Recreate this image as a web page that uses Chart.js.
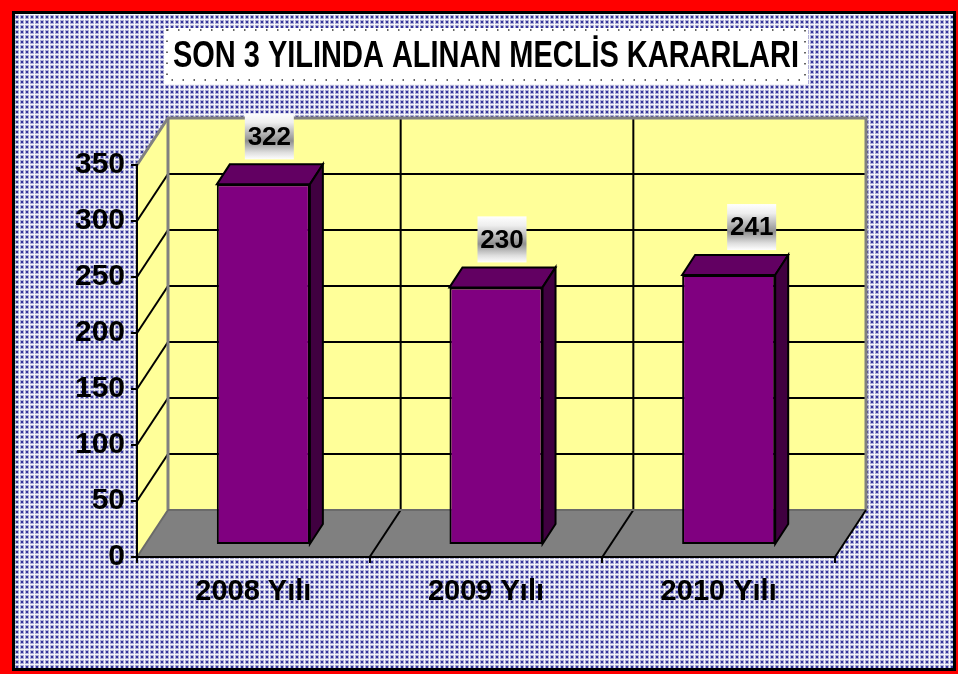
<!DOCTYPE html>
<html>
<head>
<meta charset="utf-8">
<title>SON 3 YILINDA ALINAN MECLİS KARARLARI</title>
<script src="https://cdn.jsdelivr.net/npm/chart.js@4.4.1/dist/chart.umd.min.js"></script>
<style>
  html, body { margin: 0; padding: 0; background: #fff; }
  #chart { display: block; }
</style>
</head>
<body>
<canvas id="chart" width="958" height="674"></canvas>
<script>
// data
const years = ['2008 Yılı', '2009 Yılı', '2010 Yılı'];
const decisions = [322, 230, 241];
const yTicks = [0, 50, 100, 150, 200, 250, 300, 350];
const chartTitle = 'SON 3 YILINDA ALINAN MECLİS KARARLARI';

// fake 3D settings (Excel style box)
const WALL_DX = 31, WALL_DY = -47;      // depth of the walls
const BAR_DX = 10, BAR_DY = -12;        // bars sit a bit behind the front edge
const BAR_DEPTH_X = 13, BAR_DEPTH_Y = -20;
const labelNudge = [6, 6, 23];          // labels were moved by hand in the original
const TITLE_PAD_TOP = 35.4;
const TITLE_WIDTH = 626;                // title is squeezed like Arial Narrow

const boldFont = "'Liberation Sans', Arial, sans-serif";

function makePattern(ctx) {
  const tile = document.createElement('canvas');
  tile.width = 5; tile.height = 5;
  const t = tile.getContext('2d');
  t.fillStyle = '#f6f6fb'; t.fillRect(0, 0, 5, 5);
  t.fillStyle = '#aeaed6'; t.fillRect(0, 0, 4, 4);
  t.fillStyle = '#34349a'; t.fillRect(1, 1, 2, 2);
  return ctx.createPattern(tile, 'repeat');
}

function poly(ctx, pts, fill, stroke, lw) {
  ctx.beginPath();
  ctx.moveTo(pts[0][0], pts[0][1]);
  for (let i = 1; i < pts.length; i++) ctx.lineTo(pts[i][0], pts[i][1]);
  ctx.closePath();
  if (fill) { ctx.fillStyle = fill; ctx.fill(); }
  if (stroke) { ctx.strokeStyle = stroke; ctx.lineWidth = lw || 2; ctx.stroke(); }
}

function line(ctx, x1, y1, x2, y2, color, lw) {
  ctx.beginPath();
  ctx.moveTo(x1, y1);
  ctx.lineTo(x2, y2);
  ctx.strokeStyle = color;
  ctx.lineWidth = lw;
  ctx.stroke();
}

const scene = {
  id: 'scene',
  afterLayout(chart) {
    // narrow the title block so the text gets condensed to the original width
    const tb = chart.titleBlock;
    const c = (tb.left + tb.right) / 2;
    tb.left = c - TITLE_WIDTH / 2;
    tb.right = c + TITLE_WIDTH / 2;
  },
  beforeDraw(chart) {
    const { ctx, chartArea: a, scales: { x, y } } = chart;
    const W = chart.width, H = chart.height;
    ctx.save();

    // red frame, black line, dotted blue background
    ctx.fillStyle = '#ff0000';
    ctx.fillRect(0, 0, W, H);
    ctx.fillStyle = '#000';
    ctx.fillRect(12, 11, W - 14, H - 14);
    ctx.fillStyle = makePattern(ctx);
    ctx.fillRect(15, 14, W - 20, H - 20);

    // white box behind the title
    const tb = chart.titleBlock;
    const tf = Chart.helpers.toFont(chart.options.plugins.title.font);
    const tcy = tb.top + TITLE_PAD_TOP + tf.lineHeight / 2;
    ctx.fillStyle = '#fff';
    ctx.fillRect(tb.left - 9, tcy - 29, tb.right - tb.left + 18, 56);
    ctx.setLineDash([1.5, 9.5]);
    ctx.strokeStyle = '#333';
    ctx.lineWidth = 1.5;
    ctx.strokeRect(tb.left - 6, tcy - 27, tb.right - tb.left + 12, 50);
    ctx.setLineDash([]);

    const yf = v => y.getPixelForValue(v);
    const yb = v => y.getPixelForValue(v) + WALL_DY;
    const top = yTicks[yTicks.length - 1], bot = yTicks[0];
    const L = a.left, R = a.right;

    // back wall, side wall, floor
    poly(ctx, [[L + WALL_DX, yb(top)], [R + WALL_DX, yb(top)], [R + WALL_DX, yb(bot)], [L + WALL_DX, yb(bot)]], '#ffff99');
    poly(ctx, [[L, yf(top)], [L + WALL_DX, yb(top)], [L + WALL_DX, yb(bot)], [L, yf(bot)]], '#ffff99');
    poly(ctx, [[L, yf(bot)], [L + WALL_DX, yb(bot)], [R + WALL_DX, yb(bot)], [R, yf(bot)]], '#808080');

    // gridlines on the back wall and the side wall
    yTicks.slice(1, -1).forEach(v => {
      line(ctx, L + WALL_DX, yb(v), R + WALL_DX, yb(v), '#000', 2);
      line(ctx, L, yf(v), L + WALL_DX, yb(v), '#000', 2);
    });

    // category dividers
    for (let i = 1; i < years.length; i++) {
      const bx = (x.getPixelForValue(i - 1) + x.getPixelForValue(i)) / 2;
      line(ctx, bx + WALL_DX, yb(bot), bx + WALL_DX, yb(top), '#000', 2);
      line(ctx, bx, yf(bot), bx + WALL_DX, yb(bot), '#000', 2);
    }

    // edges
    ctx.beginPath();
    ctx.moveTo(L, yf(top));
    ctx.lineTo(L + WALL_DX, yb(top));
    ctx.lineTo(R + WALL_DX, yb(top));
    ctx.lineTo(R + WALL_DX, yb(bot));
    ctx.strokeStyle = '#808080';
    ctx.lineWidth = 3;
    ctx.stroke();
    line(ctx, L + WALL_DX, yb(top), L + WALL_DX, yb(bot), '#808080', 3);
    line(ctx, L + WALL_DX, yb(bot), R + WALL_DX, yb(bot), '#6a6a6a', 2);
    line(ctx, L, yf(bot), L + WALL_DX, yb(bot), '#6a6a6a', 2);
    line(ctx, R, yf(bot), R + WALL_DX, yb(bot), '#000', 2);

    ctx.restore();
  },
  beforeDatasetDraw(chart) {
    chart.ctx.save();
    chart.ctx.translate(BAR_DX, BAR_DY);
  },
  afterDatasetDraw(chart, args) {
    const ctx = chart.ctx;
    args.meta.data.forEach(bar => {
      const p = bar.getProps(['x', 'y', 'base', 'width'], true);
      const l = p.x - p.width / 2, r = p.x + p.width / 2;
      poly(ctx, [[l, p.y], [l + BAR_DEPTH_X, p.y + BAR_DEPTH_Y], [r + BAR_DEPTH_X, p.y + BAR_DEPTH_Y], [r, p.y]], '#620062', '#000', 2);
      poly(ctx, [[r, p.y], [r + BAR_DEPTH_X, p.y + BAR_DEPTH_Y], [r + BAR_DEPTH_X, p.base + BAR_DEPTH_Y], [r, p.base]], '#400040', '#000', 2);
    });
    ctx.restore();
  },
  afterDatasetsDraw(chart) {
    const ctx = chart.ctx;
    const meta = chart.getDatasetMeta(0);
    const vals = chart.data.datasets[0].data;
    ctx.save();
    meta.data.forEach((bar, i) => {
      const cx = bar.x + BAR_DX + labelNudge[i];
      const cy = bar.y + BAR_DY - 48;
      const w = 49, h = 46;
      const g = ctx.createLinearGradient(0, cy - h / 2, 0, cy + h / 2);
      g.addColorStop(0, '#ffffff');
      g.addColorStop(0.2, '#eeeeee');
      g.addColorStop(0.6, '#8f8f8f');
      g.addColorStop(0.85, '#dedede');
      g.addColorStop(1, '#ffffff');
      ctx.fillStyle = g;
      ctx.fillRect(cx - w / 2, cy - h / 2, w, h);
      ctx.fillStyle = '#000';
      ctx.font = 'bold 26px ' + boldFont;
      ctx.textAlign = 'center';
      ctx.textBaseline = 'middle';
      ctx.fillText(String(vals[i]), cx, cy + 1, 44);
    });
    ctx.restore();
  }
};

new Chart(document.getElementById('chart'), {
  type: 'bar',
  data: {
    labels: years,
    datasets: [{
      data: decisions,
      backgroundColor: '#800080',
      borderColor: '#000',
      borderWidth: 2,
      borderSkipped: false,
      barPercentage: 0.4,
      categoryPercentage: 1,
      clip: false
    }]
  },
  options: {
    responsive: false,
    animation: false,
    devicePixelRatio: 1,
    layout: { padding: { left: 16, right: 123, top: 0, bottom: 0 } },
    plugins: {
      legend: { display: false },
      tooltip: { enabled: false },
      title: {
        display: true,
        fullSize: false,
        text: chartTitle,
        color: '#000',
        font: { family: boldFont, size: 36, weight: 'bold', lineHeight: 1.2 },
        padding: { top: TITLE_PAD_TOP, bottom: 86.4 }
      }
    },
    scales: {
      x: {
        grid: { drawOnChartArea: false, color: '#000', lineWidth: 2, tickLength: 6 },
        border: { color: '#000', width: 2 },
        ticks: { color: '#000', font: { family: boldFont, size: 29, weight: 'bold' }, padding: 12, maxRotation: 0 },
        afterFit: s => { s.height = 117; }
      },
      y: {
        min: yTicks[0],
        max: yTicks[yTicks.length - 1],
        afterBuildTicks: s => { s.ticks = yTicks.map(v => ({ value: v })); },
        grid: { drawOnChartArea: false, color: '#000', lineWidth: 2, tickLength: 6 },
        border: { color: '#000', width: 2 },
        ticks: { color: '#000', font: { family: boldFont, size: 30, weight: 'bold' }, padding: 6 },
        afterFit: s => { s.width = 121; }
      }
    }
  },
  plugins: [scene]
});
</script>
</body>
</html>
